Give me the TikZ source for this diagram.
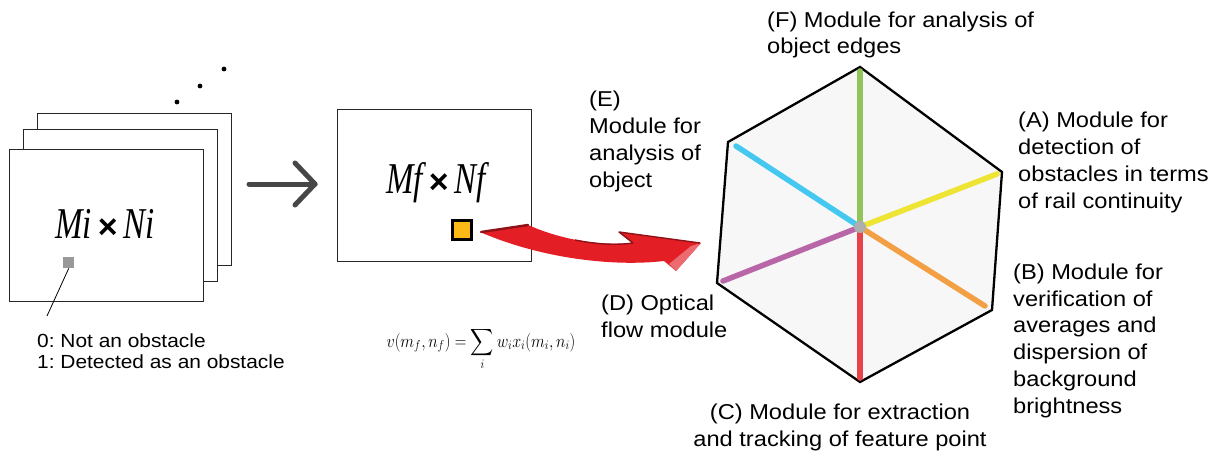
\documentclass[tikz,border=0pt]{standalone}
\usepackage{exscale}
\usepackage[no-math]{fontspec}
\usepackage{graphicx}
\setmainfont{Liberation Sans}
\newfontfamily\lab[FakeStretch=1.1]{Liberation Sans}
\newfontfamily\serifc[FakeStretch=0.75]{Liberation Serif}
\newfontfamily\sansx{Liberation Sans}
\usetikzlibrary{calc}
\definecolor{redA}{HTML}{E31E24}
\definecolor{redD}{HTML}{8E1318}
\definecolor{redL}{HTML}{EC6B70}
\definecolor{hexfill}{HTML}{F7F7F7}
\definecolor{cGreen}{HTML}{92C45C}
\definecolor{cCyan}{HTML}{45C8F0}
\definecolor{cYellow}{HTML}{EEE433}
\definecolor{cOrange}{HTML}{F2A043}
\definecolor{cRed}{HTML}{E8434A}
\definecolor{cPurple}{HTML}{B866A8}
\definecolor{cOrSq}{HTML}{FBBA16}
\frenchspacing
\begin{document}
\begin{tikzpicture}[x=1pt,y=-1pt,
  frame/.style={draw=black!85, line width=1.2pt, fill=white, minimum width=194pt, minimum height=152pt, anchor=north west, inner sep=0pt},
  lbl/.style={font=\lab\fontsize{21.5}{26.7}\selectfont, align=left, inner sep=0pt, anchor=base west},
  bigm/.style={font=\serifc\itshape\fontsize{44}{44}\selectfont, inner sep=0pt},
  spoke/.style={line width=5.5pt, line cap=round},
  grayarr/.style={line width=5pt, draw=black!72, line cap=round, line join=round},
 ]
\useasboundingbox (0,0) rectangle (1222,452);
\fill[white] (0,0) rectangle (1222,452);

% stack of frames
\node[frame] (f3) at (37,113) {};
\node[frame] (f2) at (23,129) {};
\node[frame] (f1) at (9,149) {};
\node[bigm] (mi) at (105,224) {Mi\hspace{6pt}{\sansx\upshape\bfseries\fontsize{34}{34}\selectfont ×}\hspace{6pt}Ni};
\node[fill=black!40, minimum size=11pt, inner sep=0pt, anchor=north west] (px) at (63,257) {};
\coordinate (pl) at (47,316);
\draw[line width=0.8pt] (px.south) -- (pl);
\node[font=\lab\fontsize{19}{21}\selectfont, align=left, inner sep=0pt, anchor=base west] (leg) at (37,368) {0: Not an obstacle\\1: Detected as an obstacle};

% dots
\fill (177,102) circle (2.4);
\fill (200,86) circle (2.4);
\fill (224,69) circle (2.4);

% gray arrow
\coordinate (ga1) at (249,184);
\coordinate (ga2) at (315,184);
\draw[grayarr] (ga1) -- (ga2);
\draw[grayarr] ($(ga2)+(-20,-21)$) -- (ga2) -- ($(ga2)+(-20,21)$);

% middle frame
\node[frame] (fm) at (337,109) {};
\node[bigm] (mf) at (436,183) {Mf\hspace{6pt}{\sansx\upshape\bfseries\fontsize{34}{34}\selectfont ×}\hspace{6pt}Nf};
\node[draw=black, line width=2.5pt, fill=cOrSq, minimum size=19pt, inner sep=0pt] (sq) at (462,230) {};

% formula
\node[font=\fontsize{17.28}{20}\selectfont, inner sep=0pt, anchor=base] (fo) at (481,347) {\scalebox{0.93}[1.08]{$\displaystyle v(m_f,n_f)=\sum_i w_i x_i(m_i,n_i)$}};

% red curved arrow
\fill[redA] (480,232) -- (528,225) .. controls (562,240) and (600,246) .. (633,243) -- (619,232) -- (701,243) -- (676,271) -- (664,261) .. controls (612,267) and (540,258) .. (480,232) -- cycle;
\fill[redL] (701,243) -- (676,271) -- (669,264) -- (691,246) -- cycle;
\draw[redD, line width=2.4pt, line cap=round, line join=round] (481,232) -- (528,225);
\draw[redD, line width=1.4pt, line join=round] (575,240) .. controls (600,245) and (618,245) .. (633,243) -- (619,232) -- (700,243);

% hexagon
\coordinate (hT) at (860,67);
\coordinate (hUR) at (1002,172);
\coordinate (hLR) at (992,310);
\coordinate (hB) at (860,382);
\coordinate (hLL) at (717,283);
\coordinate (hUL) at (728,142);
\coordinate (hc) at (860,227);
\filldraw[fill=hexfill, draw=black, line width=2.3pt, line join=miter] (hT) -- (hUR) -- (hLR) -- (hB) -- (hLL) -- (hUL) -- cycle;
\coordinate (sG) at (860,71);
\coordinate (sC) at (736,146);
\coordinate (sY) at (997,174);
\coordinate (sO) at (985,306);
\coordinate (sR) at (860,378);
\coordinate (sP) at (723,281);
\draw[spoke, cGreen] (hc) -- (sG);
\draw[spoke, cCyan] (hc) -- (sC);
\draw[spoke, cYellow] (hc) -- (sY);
\draw[spoke, cOrange] (hc) -- (sO);
\draw[spoke, cRed] (hc) -- (sR);
\draw[spoke, cPurple] (hc) -- (sP);
\fill[black!32] (hc) circle (6);

% labels (anchored at the baseline of their last line)
\node[lbl] (lF) at (767,54) {(F) Module for analysis of\\object edges};
\node[lbl] (lA) at (1018,208) {(A) Module for\\detection of\\obstacles in terms\\of rail continuity};
\node[lbl] (lB) at (1013,413) {(B) Module for\\verification of\\averages and\\dispersion of\\background\\brightness};
\node[lbl, align=center, anchor=base] (lC) at (840,446) {(C) Module for extraction\\and tracking of feature point};
\node[lbl] (lD) at (601,337) {(D) Optical\\flow module};
\node[lbl] (lE) at (589,187) {(E)\\Module for\\analysis of\\object};
\end{tikzpicture}
\end{document}
